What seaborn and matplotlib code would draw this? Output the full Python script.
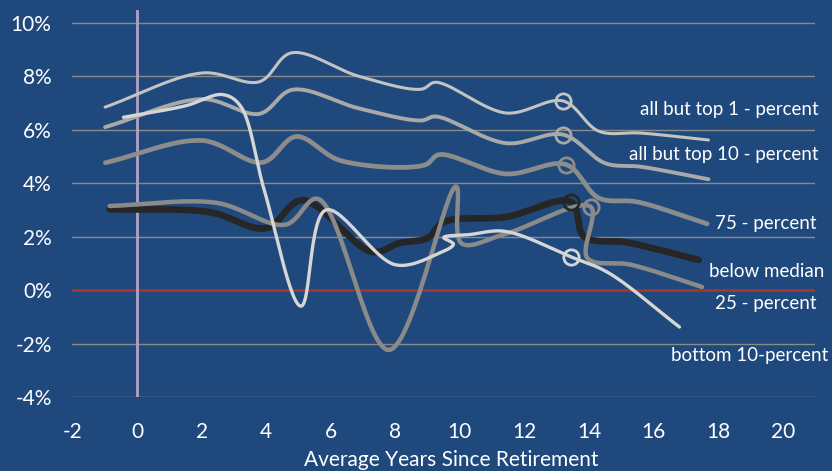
import numpy as np
import pandas as pd
import matplotlib
matplotlib.use("Agg")
import matplotlib.pyplot as plt
import seaborn as sns

# knot points (x = avg years since retirement, y = percent)
series_names = ["all but top 1 - percent", "all but top 10 - percent", "75 - percent",
                "below median", "25 - percent", "bottom 10-percent"]

top1_x = [-0.99, 2.02, 3.79, 4.78, 6.88, 8.8, 9.25, 11.43, 13.2, 14.3, 15.6, 17.7]
top1_y = [6.85, 8.13, 7.8, 8.88, 8.0, 7.52, 7.78, 6.63, 7.08, 5.95, 5.88, 5.62]

top10_x = [-0.99, 2.02, 3.79, 4.81, 6.88, 8.8, 9.25, 11.43, 13.2, 14.5, 15.6, 17.7]
top10_y = [6.1, 7.15, 6.6, 7.5, 6.8, 6.35, 6.5, 5.5, 5.82, 4.75, 4.62, 4.15]

p75_x = [-0.98, 2.02, 3.88, 4.93, 6.3, 8.9, 9.36, 11.43, 13.29, 14.3, 15.5, 17.66]
p75_y = [4.77, 5.6, 4.78, 5.75, 4.85, 4.68, 5.07, 4.35, 4.7, 3.45, 3.3, 2.48]

median_x = [-0.85, 2.24, 4.0, 5.12, 7.28, 8.12, 9.0, 9.5, 11.43, 13.45, 13.85, 15.2, 17.4]
median_y = [3.03, 2.92, 2.32, 3.37, 1.43, 1.76, 1.95, 2.55, 2.74, 3.3, 2.0, 1.78, 1.13]

p25_x = [-0.85, 2.45, 4.6, 5.6, 7.8, 9.88, 10.05, 11.4, 14.05, 13.95, 15.3, 17.5]
p25_y = [3.15, 3.27, 2.45, 3.42, -2.24, 3.88, 1.75, 2.1, 3.12, 1.2, 0.95, 0.12]

bot10_x = [-0.42, 1.5, 2.65, 3.2, 3.95, 5.08, 5.85, 8.0, 9.3, 9.8, 9.5, 10.3, 11.4, 13.45, 14.6, 16.8]
bot10_y = [6.47, 6.9, 7.32, 6.9, 3.7, -0.6, 3.0, 0.95, 1.35, 1.72, 1.97, 2.08, 2.2, 1.24, 0.65, -1.38]

# knot index where the curve makes a small loop (drawn as a hollow circle)
loop_idx = [8, 8, 8, 9, 8, 13]

y_ticks = [-4, -2, 0, 2, 4, 6, 8, 10]
x_ticks = [-2, 0, 2, 4, 6, 8, 10, 12, 14, 16, 18, 20]

colors = ["#c3c3c3", "#a9a9a9", "#8c8c8c", "#262626", "#8a8a8a", "#d6d6d6"]
widths = [2.2, 2.8, 3.4, 4.8, 3.2, 2.4]
label_pos = [(21.1, 6.75), (21.1, 5.07), (21.05, 2.48), (21.3, 0.69), (21.05, -0.51), (21.4, -2.46)]

BG = "#1f497d"
Y_ASPECT = 26.7 / 32.3  # px per y unit / px per x unit


def smooth(xs, ys, n=30, alpha=0.5):
    """centripetal catmull-rom through the knots"""
    p = np.column_stack([xs, ys]).astype(float)
    p = np.vstack([2 * p[0] - p[1], p, 2 * p[-1] - p[-2]])
    sc = np.array([1.0, Y_ASPECT])

    def knot(a, b):
        return max(np.linalg.norm((b - a) * sc), 1e-6) ** alpha

    out = []
    for i in range(1, len(p) - 2):
        p0, p1, p2, p3 = p[i - 1], p[i], p[i + 1], p[i + 2]
        t0 = 0.0
        t1 = t0 + knot(p0, p1)
        t2 = t1 + knot(p1, p2)
        t3 = t2 + knot(p2, p3)
        t = np.linspace(t1, t2, n, endpoint=False)[:, None]
        a1 = (t1 - t) / (t1 - t0) * p0 + (t - t0) / (t1 - t0) * p1
        a2 = (t2 - t) / (t2 - t1) * p1 + (t - t1) / (t2 - t1) * p2
        a3 = (t3 - t) / (t3 - t2) * p2 + (t - t2) / (t3 - t2) * p3
        b1 = (t2 - t) / (t2 - t0) * a1 + (t - t0) / (t2 - t0) * a2
        b2 = (t3 - t) / (t3 - t1) * a2 + (t - t1) / (t3 - t1) * a3
        out.append((t2 - t) / (t2 - t1) * b1 + (t - t1) / (t2 - t1) * b2)
    out.append(p[-2][None, :])
    return np.vstack(out)


sns.set_style("white")
plt.rcParams["font.family"] = ["Lato", "DejaVu Sans"]
plt.rcParams["axes.unicode_minus"] = False

fig = plt.figure(figsize=(8.32, 4.71), dpi=100, facecolor=BG)
ax = fig.add_axes([0.0871, 0.1571, 0.9796 - 0.0871, 0.9796 - 0.1571])
ax.set_facecolor(BG)

for yt in y_ticks:
    if yt != 0:
        ax.axhline(yt, color="#8a8a8a", lw=1.0, zorder=1)
ax.axhline(0, color="#a8342c", lw=2.0, zorder=1)
ax.axvline(0, color="#b3a2c7", lw=2.0, zorder=1)

all_x = [top1_x, top10_x, p75_x, median_x, p25_x, bot10_x]
all_y = [top1_y, top10_y, p75_y, median_y, p25_y, bot10_y]

for name, xs, ys, c, lw, li, (lx, ly) in zip(series_names, all_x, all_y, colors, widths,
                                               loop_idx, label_pos):
    pts = smooth(xs, ys)
    df = pd.DataFrame({"x": pts[:, 0], "y": pts[:, 1]})
    sns.lineplot(data=df, x="x", y="y", sort=False, estimator=None, color=c,
                 linewidth=lw, ax=ax, zorder=3, solid_capstyle="round")
    ax.plot([xs[li]], [ys[li]], marker="o", ms=11, mfc="none", mec=c, mew=2.0,
            zorder=4)
    ax.text(lx, ly, name, ha="right", va="center", color="white", fontsize=13.5,
            clip_on=False)

ax.set_xlim(-2, 21)
ax.set_ylim(-4, 10.5)
ax.set_xticks(x_ticks)
ax.set_yticks(y_ticks)
ax.set_yticklabels([f"{v}%" for v in y_ticks])
ax.tick_params(colors="white", labelsize=15, length=0)
ax.tick_params(axis="x", pad=18)
ax.tick_params(axis="y", pad=15)
ax.set_xlabel("Average Years Since Retirement", color="white", fontsize=15)
ax.xaxis.set_label_coords(0.5105, -0.138)
ax.set_ylabel("")
for s in ax.spines.values():
    s.set_visible(False)

fig.savefig("out.png", dpi=100, facecolor=BG)
